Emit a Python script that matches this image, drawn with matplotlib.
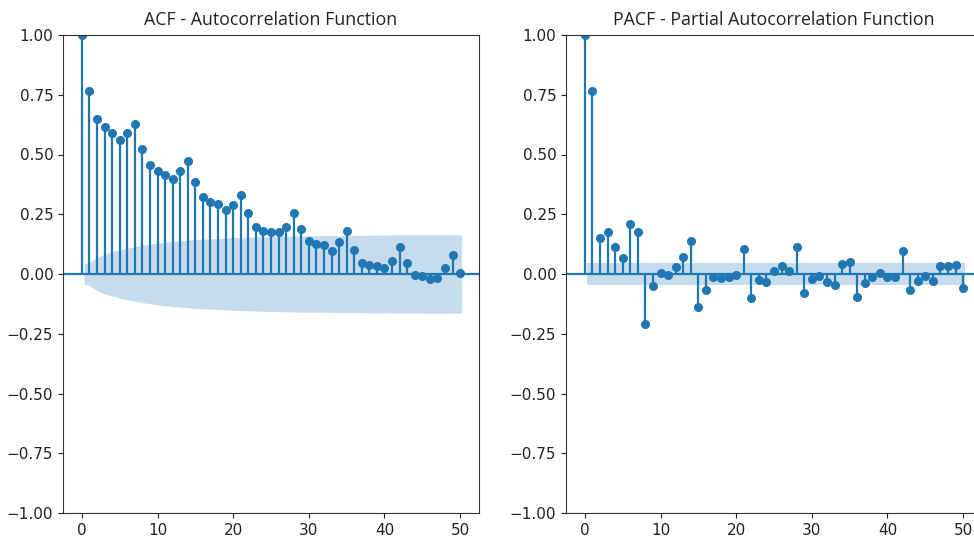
import numpy as np
import matplotlib.pyplot as plt

# lags 0..50
lags = np.arange(51)

acf_vals = [1.0, 0.767, 0.648, 0.614, 0.589, 0.559, 0.589, 0.626, 0.522, 0.455,
            0.431, 0.414, 0.399, 0.431, 0.473, 0.386, 0.321, 0.301, 0.292, 0.269,
            0.290, 0.332, 0.254, 0.197, 0.180, 0.176, 0.176, 0.198, 0.254, 0.187,
            0.139, 0.126, 0.120, 0.095, 0.134, 0.180, 0.100, 0.045, 0.038, 0.033,
            0.026, 0.054, 0.112, 0.045, -0.005, -0.010, -0.020, -0.015, 0.025, 0.080,
            0.003]

pacf_vals = [1.0, 0.767, 0.151, 0.175, 0.115, 0.067, 0.209, 0.176, -0.210, -0.050,
             0.004, -0.003, 0.028, 0.071, 0.140, -0.140, -0.067, -0.011, -0.017, -0.011,
             -0.003, 0.104, -0.100, -0.025, -0.033, 0.014, 0.035, 0.014, 0.113, -0.080,
             -0.021, -0.010, -0.035, -0.048, 0.042, 0.050, -0.098, -0.039, -0.011, 0.004,
             -0.013, -0.013, 0.095, -0.066, -0.028, -0.010, -0.028, 0.032, 0.032, 0.039,
             -0.059]

# confidence band half-widths
acf_band_lags = [0.3, 1, 2, 3, 4, 5, 6, 8, 10, 12, 15, 20, 25, 30, 40, 50.2]
acf_band_half = [0.044, 0.048, 0.070, 0.083, 0.093, 0.101, 0.108, 0.120, 0.129,
                 0.136, 0.144, 0.152, 0.157, 0.160, 0.163, 0.164]
pacf_band_lags = [0.3, 50.2]
pacf_band_half = [0.048, 0.048]

color = '#1f77b4'

fig = plt.figure(figsize=(9.74, 5.36), dpi=100)
ax1 = fig.add_axes([63 / 974, 23 / 536, 416 / 974, 478 / 536])
ax2 = fig.add_axes([566 / 974, 23 / 536, 416 / 974, 478 / 536])


def draw(ax, vals, band_x, band_h, title):
    ax.vlines(lags, 0, vals, color=color, linewidth=1.6)
    ax.plot(lags, vals, 'o', color=color, markersize=5.5)
    ax.axhline(0, color=color, linewidth=1.6)
    bx = np.array(band_x)
    bh = np.array(band_h)
    ax.fill_between(bx, -bh, bh, color=color, alpha=0.25, linewidth=0)
    ax.set_xlim(-2.5, 52.5)
    ax.set_ylim(-1, 1)
    ax.set_yticks(np.arange(-1, 1.01, 0.25))
    ax.set_xticks([0, 10, 20, 30, 40, 50])
    ax.tick_params(labelsize=11, colors='#222222')
    for s in ax.spines.values():
        s.set_color('#333333')
    ax.set_title(title, fontsize=12.8, family='Open Sans', color='#222222', pad=7)


draw(ax1, acf_vals, acf_band_lags, acf_band_half, 'ACF - Autocorrelation Function')
draw(ax2, pacf_vals, pacf_band_lags, pacf_band_half, 'PACF - Partial Autocorrelation Function')

plt.savefig('out.png', dpi=100)
